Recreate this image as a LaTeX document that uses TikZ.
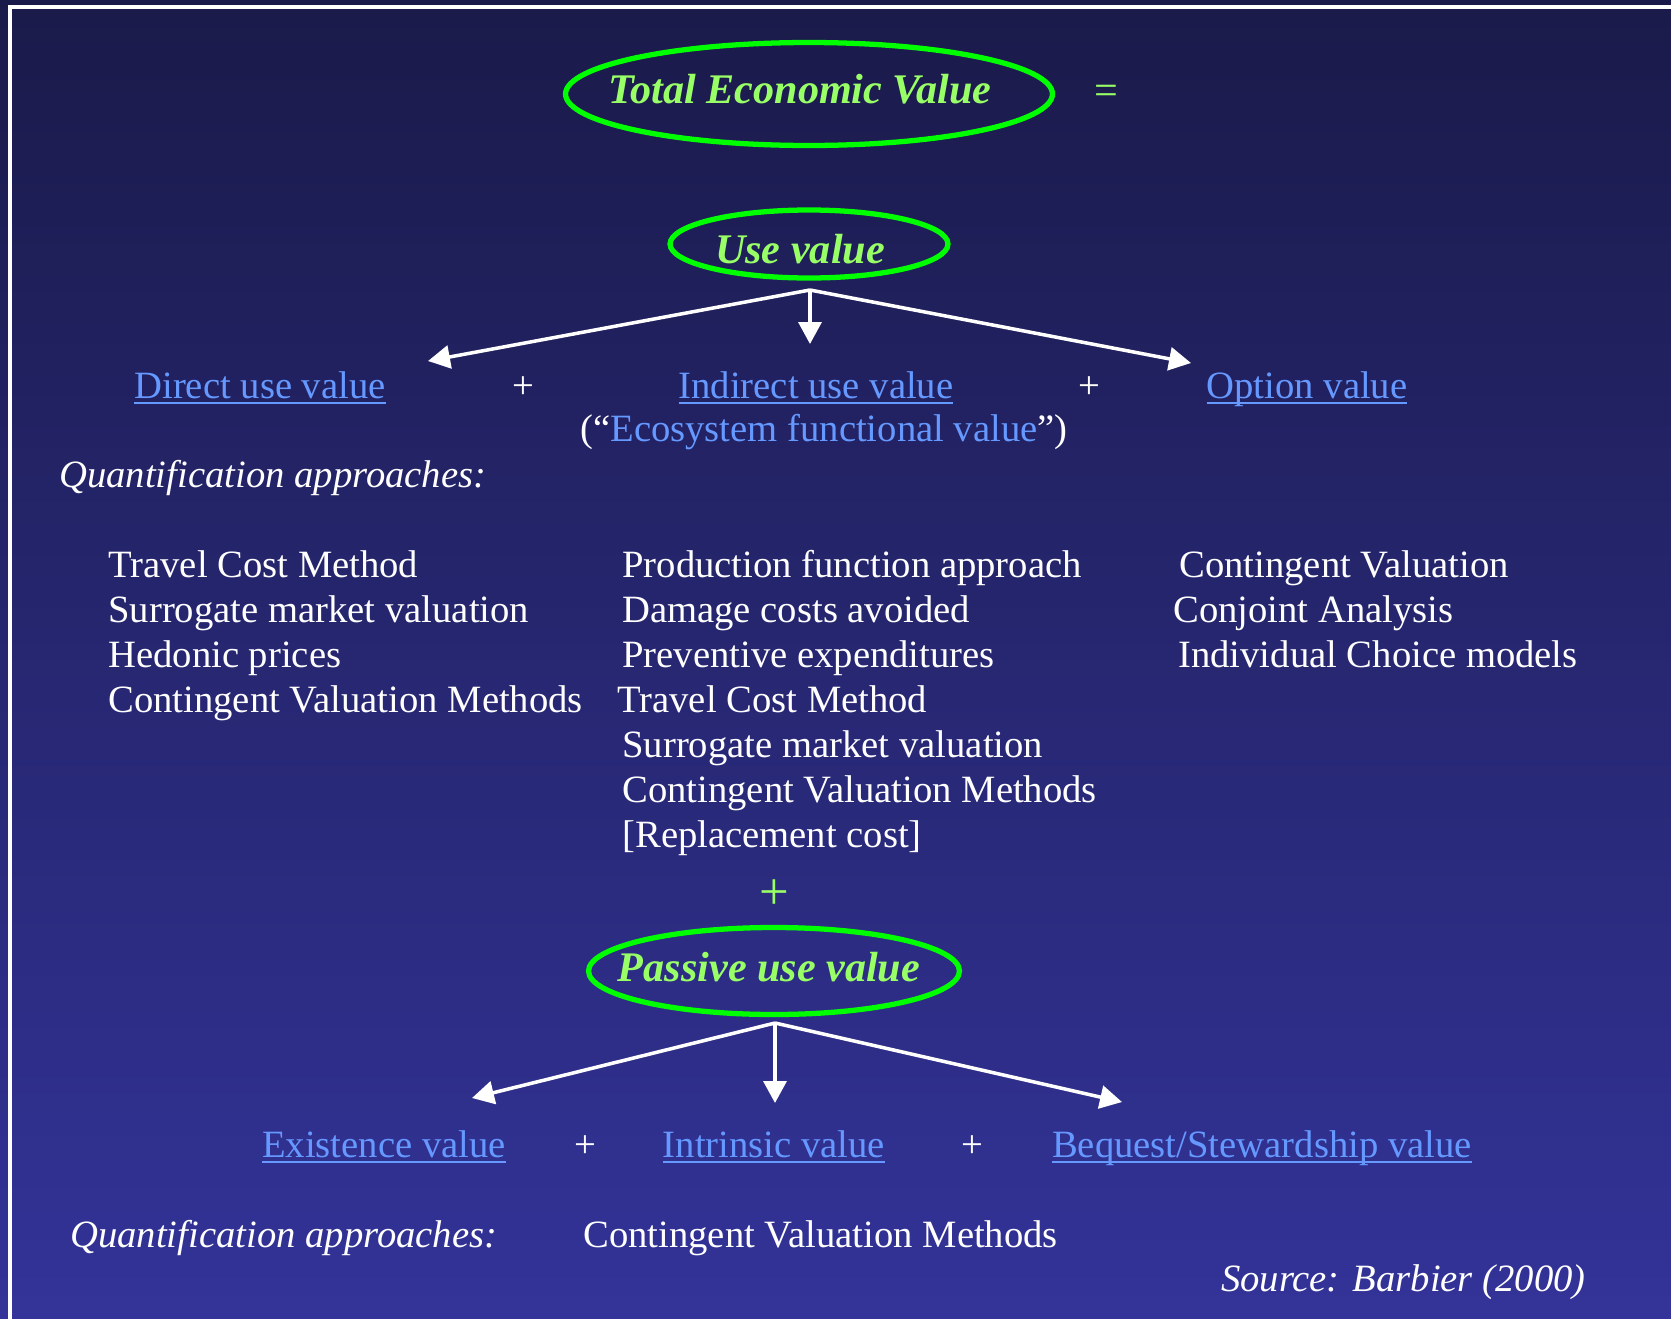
\documentclass[tikz,border=0pt]{standalone}
\usepackage{fontspec}
\setmainfont{Liberation Serif}
\usetikzlibrary{arrows.meta,shapes.geometric}

\definecolor{bgtop}{HTML}{1A1A4A}
\definecolor{bgbottom}{HTML}{333399}
\definecolor{ovalgreen}{HTML}{00FF00}
\definecolor{titlegreen}{HTML}{99FF66}
\definecolor{linkblue}{HTML}{6699FF}
% underlined link text, the line a little below the baseline
\newcommand{\linkline}[1]{\setbox0=\hbox{#1}\rlap{\vrule width \wd0 height -0.08cm depth 0.12cm}\box0}

\tikzset{
  body/.style={text=white, font=\fontsize{22}{26}\selectfont, inner sep=0pt, anchor=base west},
  link/.style={text=linkblue, font=\fontsize{22}{26}\selectfont, inner sep=0pt, anchor=base},
  plus/.style={text=white, font=\fontsize{22}{26}\selectfont, inner sep=0pt, anchor=base},
  oval/.style={ellipse, draw=ovalgreen, line width=3pt, inner sep=0pt},
  title/.style={text=titlegreen, font=\fontsize{24}{28}\selectfont\bfseries\itshape, inner sep=0pt, anchor=base},
  conn/.style={white, line width=2pt, -{Triangle[length=0.44cm,width=0.46cm]}},
}

\begin{document}
\begin{tikzpicture}[x=0.02cm, y=-0.02cm]
% background and frame
\shade[top color=bgtop, bottom color=bgbottom] (0,0) rectangle (1671,1319);
\useasboundingbox (0,0) rectangle (1671,1319);
\draw[white, line width=1.8pt] (10,1319) -- (10,7) -- (1671,7);

% total value
\node[oval, minimum width=9.74cm, minimum height=2.06cm] (tev) at (809,94) {};
\node[title] (tevtext) at (800,103) {Total Economic Value};
\node[text=titlegreen, font=\fontsize{24}{28}\selectfont, inner sep=0pt] (equals) at (1106,95) {=};

% use value
\node[oval, minimum width=5.56cm, minimum height=1.36cm] (usev) at (809,244) {};
\node[title] (usetext) at (800,263) {Use value};
\coordinate (useapex) at (810,290);
\coordinate (dirtip) at (428,361);
\coordinate (indtip) at (810,344);
\coordinate (opttip) at (1191,363);
\draw[conn] (useapex) -- (dirtip);
\draw[conn] (useapex) -- (indtip);
\draw[conn] (useapex) -- (opttip);

\node[link] (direct) at (260,398) {\linkline{Direct use value}};
\node[plus] (plusa) at (523,398) {+};
\node[link] (indirect) at (816,398) {\linkline{Indirect use value}};
\node[plus] (plusb) at (1089,398) {+};
\node[link] (option) at (1307,398) {\linkline{Option value}};
\node[link] (ecofun) at (824,441) {{\color{white}(“}Ecosystem functional value{\color{white}”)}};
\node[body, font=\fontsize{22}{26}\selectfont\itshape] (quanta) at (59,487) {Quantification approaches:};

% methods for each kind of use value
\foreach \txt/\dx [count=\i] in {Travel Cost Method/0, Surrogate market valuation/0,
    Hedonic prices/0, Contingent Valuation Methods/0}
  \node[body] (dir\i) at (108+\dx,577+45*\i-45) {\txt};
\foreach \txt/\dx [count=\i] in {Production function approach/0, Damage costs avoided/0,
    Preventive expenditures/0, Travel Cost Method/-5, Surrogate market valuation/0,
    Contingent Valuation Methods/0, {[Replacement cost]}/0}
  \node[body] (ind\i) at (622+\dx,577+45*\i-45) {\txt};
\foreach \txt/\dx [count=\i] in {Contingent Valuation/6, Conjoint Analysis/0,
    Individual Choice models/5}
  \node[body] (opt\i) at (1173+\dx,577+45*\i-45) {\txt};

% passive use value
\node[text=titlegreen, font=\fontsize{30}{34}\selectfont, inner sep=0pt] (plusc) at (774,895) {+};
\node[oval, minimum width=7.42cm, minimum height=1.74cm] (passive) at (774,971) {};
\node[title] (passtext) at (769,981) {Passive use value};
\coordinate (passapex) at (775,1023);
\coordinate (exitip) at (472,1098);
\coordinate (inttip) at (775,1103);
\coordinate (beqtip) at (1122,1102);
\draw[conn] (passapex) -- (exitip);
\draw[conn] (passapex) -- (inttip);
\draw[conn] (passapex) -- (beqtip);

\node[link] (exist) at (384,1157) {\linkline{Existence value}};
\node[plus] (plusd) at (585,1157) {+};
\node[link] (intrin) at (774,1157) {\linkline{Intrinsic value}};
\node[plus] (pluse) at (972,1157) {+};
\node[link] (bequest) at (1262,1157) {\linkline{Bequest/Stewardship value}};

\node[body, font=\fontsize{22}{26}\selectfont\itshape] (quantb) at (70,1247) {Quantification approaches:};
\node[body] (cvm) at (583,1247) {Contingent Valuation Methods};
\node[text=white, font=\fontsize{22}{26}\selectfont\itshape, inner sep=0pt, anchor=base east] (source) at (1586,1291) {Source: Barbier (2000)};
\end{tikzpicture}
\end{document}
